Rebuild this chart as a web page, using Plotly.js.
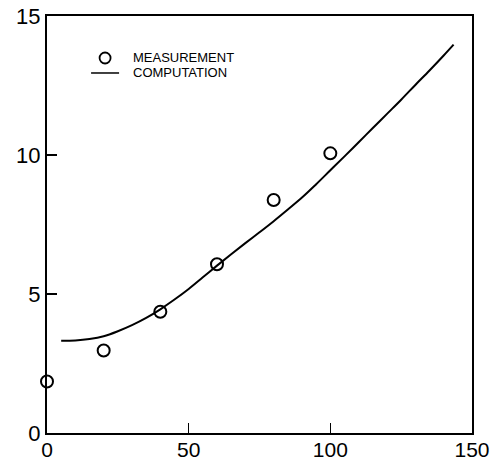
<!DOCTYPE html>
<html>
<head>
<meta charset="utf-8">
<script src="https://cdn.plot.ly/plotly-3.0.1.min.js"></script>
<style>html,body{margin:0;padding:0;background:#fff;}#chart{width:493px;height:462px;}</style>
</head>
<body>
<div id="chart"></div>
<script>
// Measured values
const measX = [0, 20, 40, 60, 80, 100];
const measY = [1.85, 2.97, 4.36, 6.07, 8.38, 10.06];

// Computed curve
const compX = [5, 10, 15, 20, 25, 30, 35, 40, 45, 50, 55, 60, 65, 70, 75, 80, 85, 90, 95, 100, 105, 110, 115, 120, 125, 130, 135, 140, 143.5];
const compY = [3.32, 3.33, 3.38, 3.48, 3.66, 3.88, 4.14, 4.45, 4.8, 5.18, 5.6, 6.02, 6.43, 6.83, 7.22, 7.62, 8.04, 8.47, 8.95, 9.45, 9.95, 10.46, 10.97, 11.48, 11.99, 12.52, 13.04, 13.58, 13.97];

const xTicks = [0, 50, 100, 150];
const yTicks = [0, 5, 10, 15];

const legendLabels = ['MEASUREMENT', 'COMPUTATION'];

const traces = [
  {
    x: measX, y: measY, type: 'scatter', mode: 'markers', name: legendLabels[0],
    marker: {symbol: 'circle-open', size: 12, color: '#000', line: {width: 2, color: '#000'}},
    cliponaxis: false
  },
  {
    x: compX, y: compY, type: 'scatter', mode: 'lines', name: legendLabels[1],
    line: {color: '#000', width: 2, shape: 'spline'}
  }
];

// Hand-placed legend (key position in data units)
const keyX = 20.5, keyTextX = 29.6, keyY1 = 13.49, keyY2 = 12.95;

const layout = {
  width: 493, height: 462,
  margin: {l: 47, r: 21, t: 16, b: 29, pad: 0},
  paper_bgcolor: '#fff', plot_bgcolor: '#fff',
  font: {family: 'Liberation Sans, Arial, sans-serif', color: '#000'},
  showlegend: false,
  shapes: [
    {type: 'circle', xref: 'x', yref: 'y', xsizemode: 'pixel', ysizemode: 'pixel',
     xanchor: keyX, yanchor: keyY1, x0: -5.5, x1: 5.5, y0: -5.5, y1: 5.5,
     line: {color: '#000', width: 1.8}},
    {type: 'line', xref: 'x', yref: 'y', xsizemode: 'pixel', ysizemode: 'pixel',
     xanchor: keyX, yanchor: keyY2, x0: -14, x1: 14, y0: 0, y1: 0,
     line: {color: '#000', width: 1.5}}
  ],
  annotations: [
    {x: keyTextX, y: keyY1, xref: 'x', yref: 'y', text: legendLabels[0], showarrow: false,
     xanchor: 'left', yanchor: 'middle', font: {size: 13, color: '#000'}},
    {x: keyTextX, y: keyY2, xref: 'x', yref: 'y', text: legendLabels[1], showarrow: false,
     xanchor: 'left', yanchor: 'middle', font: {size: 13, color: '#000'}}
  ],
  xaxis: {
    range: [0, 150], tickvals: xTicks, ticktext: xTicks.map(String),
    ticks: 'inside', ticklen: 10, tickwidth: 1.5, tickcolor: '#000',
    showline: true, linecolor: '#000', linewidth: 2, mirror: true,
    showgrid: false, zeroline: false, ticklabelstandoff: -3,
    tickfont: {size: 21, color: '#000'}
  },
  yaxis: {
    range: [0, 15], tickvals: yTicks, ticktext: yTicks.map(String),
    ticks: 'inside', ticklen: 10, tickwidth: 1.5, tickcolor: '#000',
    showline: true, linecolor: '#000', linewidth: 2, mirror: true,
    showgrid: false, zeroline: false,
    tickfont: {size: 22, color: '#000'}
  }
};

Plotly.newPlot('chart', traces, layout, {staticPlot: true, displayModeBar: false});
</script>
</body>
</html>
